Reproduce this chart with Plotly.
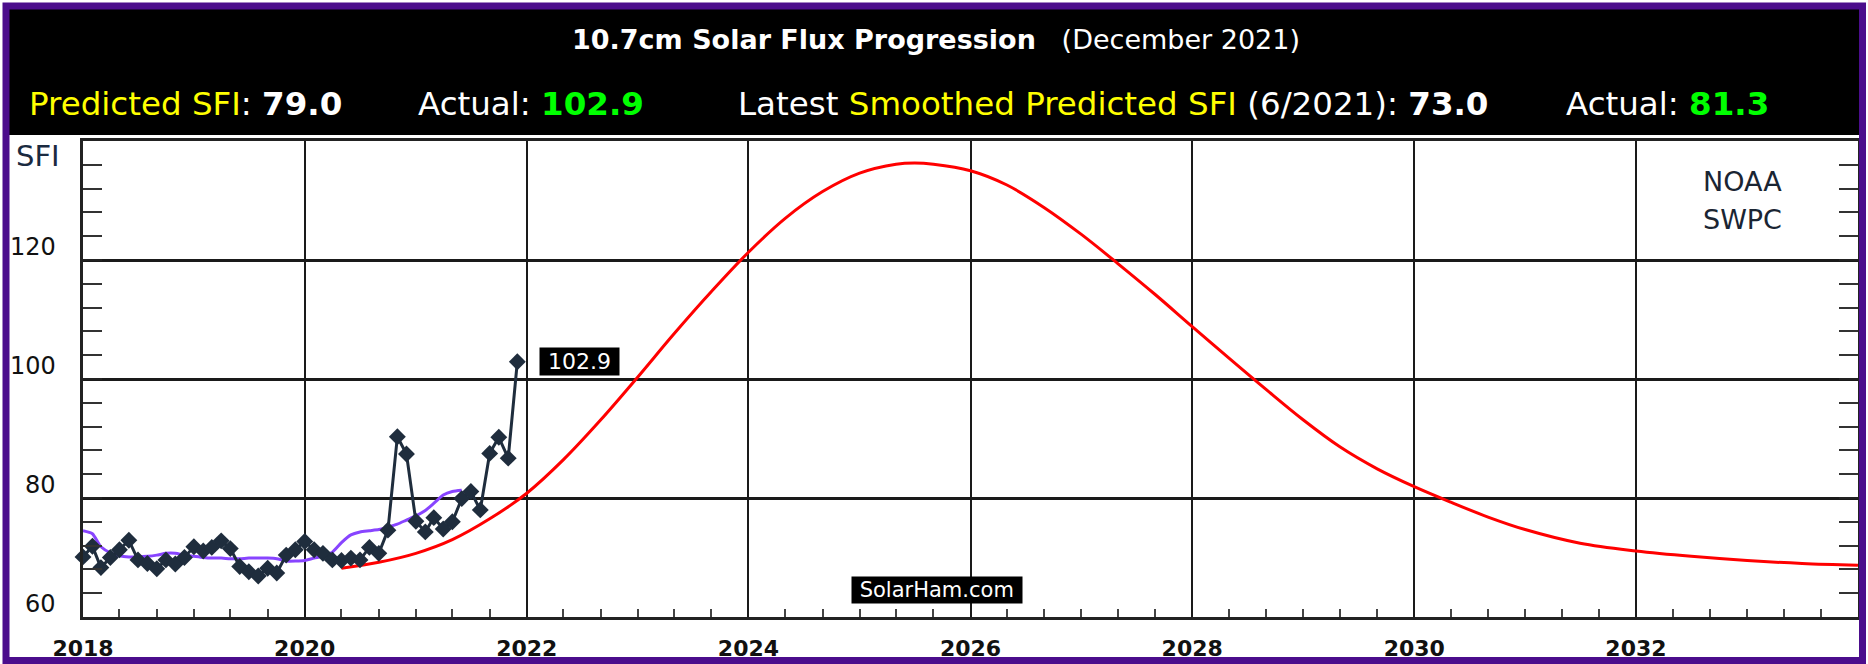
import plotly.graph_objects as go

# monthly observed 10.7cm flux, Jan 2018 .. Dec 2021
actual_dates = [f"{y}-{m:02d}-01" for y in range(2018, 2022) for m in range(1, 13)]
actual_sfi = [
    70.1, 71.9, 68.3, 70.0, 71.3, 72.9, 69.6, 69.0, 68.1, 69.6, 68.9, 70.0,
    71.8, 71.1, 71.7, 72.8, 71.5, 68.5, 67.6, 66.9, 68.2, 67.4, 70.4, 71.3,
    72.7, 71.3, 70.7, 69.6, 69.5, 69.9, 69.6, 71.7, 70.7, 74.6, 90.3, 87.4,
    76.1, 74.3, 76.7, 74.8, 76.0, 79.9, 81.1, 78.0, 87.5, 90.2, 86.7, 102.9,
]

# smoothed observed, Jan 2018 .. Jun 2021
smoothed_dates = actual_dates[:42]
smoothed_sfi = [
    74.5, 74.0, 71.8, 70.8, 70.3, 70.1, 70.1, 70.2, 70.4, 70.7, 70.7, 70.4,
    70.2, 70.0, 69.9, 69.9, 69.8, 69.8, 69.9, 69.9, 69.9, 69.8, 69.4, 69.4,
    69.5, 69.9, 70.2, 70.9, 72.5, 73.8, 74.3, 74.5, 74.7, 75.1, 75.6, 76.3,
    77.0, 77.9, 79.1, 80.5, 81.1, 81.3,
]

# NOAA predicted curve
pred_dates = [
    "2020-05-01", "2020-09-01", "2021-01-01", "2021-05-01", "2021-09-01",
    "2022-01-01", "2022-05-01", "2022-09-01", "2023-01-01", "2023-05-01",
    "2023-09-01", "2024-01-01", "2024-05-01", "2024-09-01", "2025-01-01",
    "2025-05-01", "2025-07-01", "2025-09-01", "2026-01-01", "2026-05-01",
    "2026-09-01", "2027-01-01", "2027-05-01", "2027-09-01", "2028-01-01",
    "2028-05-01", "2028-09-01", "2029-01-01", "2029-05-01", "2029-09-01",
    "2030-01-01", "2030-05-01", "2030-09-01", "2031-01-01", "2031-07-01",
    "2032-01-01", "2032-07-01", "2033-01-01", "2033-07-01", "2034-01-01",
]
pred_sfi = [
    68.2, 69.2, 70.7, 73.0, 76.5,
    80.8, 86.4, 93.1, 100.3, 107.6,
    114.7, 121.3, 127.0, 131.5, 134.6,
    136.1, 136.3, 136.1, 135.0, 132.6,
    128.8, 124.3, 119.4, 114.2, 108.8,
    103.5, 98.2, 93.1, 88.6, 84.9,
    81.9, 79.3, 76.8, 74.7, 72.4,
    71.1, 70.2, 69.5, 69.0, 68.7,
]

y_ticks = [60, 80, 100, 120, 140]
y_labels = ["60", "80", "100", "120"]

W, H = 1868, 664
L, R, T, B = 83, 10, 141, 47
pw, ph = W - L - R, H - T - B


def px(x):
    return (x - L) / pw


def py(y):
    return 1 - (y - T) / ph


fig = go.Figure()

fig.add_trace(go.Scatter(
    x=pred_dates, y=pred_sfi, mode="lines",
    line=dict(color="#ff0000", width=3, shape="spline", smoothing=1.0),
))
fig.add_trace(go.Scatter(
    x=smoothed_dates, y=smoothed_sfi, mode="lines",
    line=dict(color="#8844ff", width=3, shape="spline", smoothing=0.6),
))
fig.add_trace(go.Scatter(
    x=actual_dates, y=actual_sfi, mode="lines+markers",
    line=dict(color="#1f2d3d", width=3),
    marker=dict(symbol="diamond", size=13, color="#1f2d3d"),
    cliponaxis=False,
))

# label for latest value
fig.add_annotation(
    x=actual_dates[-1], y=actual_sfi[-1],
    text="\u00a0" + f"{actual_sfi[-1]:.1f}" + "\u00a0",
    showarrow=False, xanchor="left", yanchor="middle", xshift=22,
    font=dict(family="DejaVu Sans", size=22, color="white"),
    bgcolor="black", borderpad=1,
)

# y labels sit a little above their gridlines in the original
for lab in y_labels:
    fig.add_annotation(
        xref="paper", yref="y", x=px(58), y=float(lab), yshift=13, text=lab,
        showarrow=False, xanchor="right", yanchor="middle",
        font=dict(family="DejaVu Sans", size=24, color="#111"),
    )

# frame / header shapes
fig.add_shape(type="rect", xref="paper", yref="paper",
              x0=px(6), x1=px(1862), y0=py(135), y1=py(6),
              fillcolor="black", line=dict(width=0), layer="below")
fig.add_shape(type="rect", xref="paper", yref="paper",
              x0=px(6), x1=px(1862.5), y0=py(660.5), y1=py(6),
              line=dict(color="#4b0d8c", width=7), fillcolor="rgba(0,0,0,0)")

hdr = "DejaVu Sans"
fig.add_annotation(
    xref="paper", yref="paper", x=px(936), y=py(39),
    text="<b>10.7cm Solar Flux Progression</b>   (December 2021)",
    showarrow=False, xanchor="center", yanchor="middle",
    font=dict(family=hdr, size=27, color="white"),
)
row2 = [
    (27, "<span style='color:#ffff00'>Predicted SFI</span>: <b>79.0</b>"),
    (416, "Actual: <b><span style='color:#00ff00'>102.9</span></b>"),
    (736, "Latest <span style='color:#ffff00'>Smoothed Predicted SFI</span> (6/2021): <b>73.0</b>"),
    (1564, "Actual: <b><span style='color:#00ff00'>81.3</span></b>"),
]
for x0, txt in row2:
    fig.add_annotation(
        xref="paper", yref="paper", x=px(x0), y=py(104), text=txt,
        showarrow=False, xanchor="left", yanchor="middle",
        font=dict(family=hdr, size=32.5, color="white"),
    )

fig.add_annotation(xref="paper", yref="paper", x=px(14), y=py(156), text="SFI",
                   showarrow=False, xanchor="left", yanchor="middle",
                   font=dict(family="DejaVu Sans", size=29, color="#1a2a40"))
for yy, word in [(181, "NOAA"), (219, "SWPC")]:
    fig.add_annotation(xref="paper", yref="paper", x=px(1742), y=py(yy), text=word,
                       showarrow=False, xanchor="center", yanchor="middle",
                       font=dict(family="DejaVu Sans", size=27, color="#1a2533"))
fig.add_annotation(xref="paper", yref="paper", x=px(937), y=py(590),
                   text="\u00a0SolarHam.com\u00a0",
                   showarrow=False, xanchor="center", yanchor="middle",
                   font=dict(family="DejaVu Sans", size=21, color="white"),
                   bgcolor="black", borderpad=1)

fig.update_xaxes(
    type="date", range=["2018-01-01", "2034-01-01"],
    tick0="2018-01-01", dtick="M24", tickformat="%Y",
    showgrid=True, gridcolor="#1a1a1a", gridwidth=1.5,
    showline=True, linecolor="#222", linewidth=2.5, mirror=True,
    ticks="", zeroline=False, ticklabelstandoff=10, automargin=False,
    tickfont=dict(family="DejaVu Sans", size=22, color="#111", weight="bold"),
    minor=dict(dtick="M4", tick0="2018-01-01", ticks="inside", ticklen=8,
               tickcolor="#444", tickwidth=1.5, showgrid=False),
)
fig.update_yaxes(
    range=[60, 140], tickvals=y_ticks, showticklabels=False,
    showgrid=True, gridcolor="#1a1a1a", gridwidth=2.5,
    showline=True, linecolor="#222", linewidth=2.5, mirror="ticks",
    ticks="inside", ticklen=19, tickcolor="#222", tickwidth=2,
    zeroline=False, automargin=False,
    minor=dict(dtick=4, tick0=60, ticks="inside", ticklen=19,
               tickcolor="#333", tickwidth=2, showgrid=False),
)

fig.update_layout(
    width=W, height=H,
    margin=dict(l=L, r=R, t=T, b=B),
    paper_bgcolor="white", plot_bgcolor="white",
    showlegend=False,
)

# page has a default 8px body margin; drop it so the figure fills the window
fig.write_html("out.html", config={"displayModeBar": False},
               post_script="document.body.style.margin='0';")
